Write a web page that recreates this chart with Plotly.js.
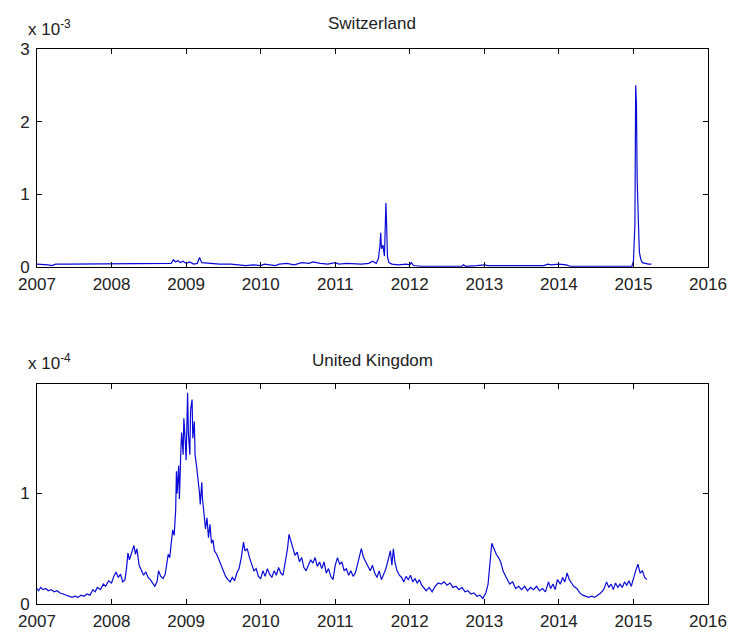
<!DOCTYPE html>
<html>
<head>
<meta charset="utf-8">
<script src="https://cdn.plot.ly/plotly-3.0.1.min.js"></script>
<style>html,body{margin:0;padding:0;background:#fff;}#chart{width:731px;height:636px;}</style>
</head>
<body>
<div id="chart"></div>
<script>
// Switzerland: decimal year, value in units of 1e-3
var chYears = [2007.00,2007.05,2007.10,2007.15,2007.20,2007.25,2007.40,2007.60,2007.80,2008.00,2008.20,2008.40,2008.60,2008.75,2008.80,2008.83,2008.86,2008.89,2008.92,2008.96,2009.00,2009.05,2009.10,2009.15,2009.18,2009.21,2009.30,2009.45,2009.60,2009.75,2009.80,2009.90,2010.00,2010.05,2010.10,2010.20,2010.25,2010.35,2010.45,2010.55,2010.65,2010.70,2010.80,2010.90,2011.00,2011.05,2011.15,2011.25,2011.35,2011.45,2011.50,2011.55,2011.58,2011.60,2011.61,2011.62,2011.64,2011.66,2011.67,2011.68,2011.69,2011.70,2011.72,2011.76,2011.85,2011.95,2012.00,2012.02,2012.05,2012.15,2012.30,2012.50,2012.70,2012.72,2012.75,2012.90,2013.00,2013.05,2013.20,2013.30,2013.50,2013.70,2013.80,2013.85,2013.90,2014.00,2014.10,2014.15,2014.30,2014.60,2014.90,2014.98,2015.00,2015.02,2015.03,2015.04,2015.05,2015.06,2015.07,2015.08,2015.10,2015.12,2015.15,2015.20,2015.24];
var chValues = [0.04,0.04,0.03,0.03,0.02,0.04,0.04,0.04,0.04,0.04,0.04,0.04,0.04,0.05,0.05,0.10,0.07,0.09,0.06,0.08,0.05,0.07,0.04,0.05,0.13,0.06,0.05,0.04,0.04,0.03,0.02,0.03,0.02,0.04,0.03,0.02,0.04,0.05,0.03,0.06,0.05,0.07,0.05,0.04,0.06,0.04,0.05,0.04,0.04,0.05,0.08,0.05,0.12,0.30,0.47,0.25,0.30,0.15,0.55,0.88,0.55,0.15,0.06,0.04,0.03,0.04,0.03,0.06,0.02,0.01,0.01,0.01,0.01,0.03,0.01,0.02,0.03,0.02,0.02,0.03,0.03,0.03,0.02,0.04,0.03,0.04,0.03,0.01,0.01,0.01,0.01,0.01,0.08,0.60,2.50,2.25,1.20,0.60,0.50,0.20,0.10,0.06,0.05,0.04,0.04];

// United Kingdom: decimal year, value in units of 1e-4
var ukYears = [2007.00,2007.02,2007.05,2007.08,2007.12,2007.15,2007.19,2007.23,2007.27,2007.31,2007.35,2007.39,2007.43,2007.47,2007.51,2007.55,2007.59,2007.63,2007.67,2007.71,2007.75,2007.78,2007.81,2007.85,2007.89,2007.92,2007.96,2008.00,2008.03,2008.06,2008.09,2008.12,2008.15,2008.18,2008.20,2008.22,2008.24,2008.27,2008.30,2008.32,2008.34,2008.37,2008.40,2008.43,2008.46,2008.49,2008.52,2008.55,2008.58,2008.61,2008.63,2008.66,2008.69,2008.72,2008.74,2008.76,2008.78,2008.80,2008.82,2008.84,2008.86,2008.87,2008.88,2008.90,2008.91,2008.93,2008.94,2008.96,2008.97,2008.99,2009.00,2009.02,2009.03,2009.05,2009.06,2009.08,2009.09,2009.11,2009.12,2009.14,2009.16,2009.18,2009.19,2009.21,2009.22,2009.24,2009.26,2009.28,2009.30,2009.32,2009.34,2009.36,2009.38,2009.41,2009.44,2009.47,2009.50,2009.53,2009.56,2009.59,2009.62,2009.65,2009.68,2009.71,2009.74,2009.77,2009.79,2009.82,2009.85,2009.88,2009.91,2009.94,2009.97,2010.00,2010.03,2010.06,2010.09,2010.12,2010.15,2010.18,2010.21,2010.24,2010.27,2010.30,2010.33,2010.36,2010.38,2010.40,2010.43,2010.46,2010.49,2010.52,2010.55,2010.58,2010.61,2010.64,2010.67,2010.70,2010.73,2010.76,2010.79,2010.82,2010.85,2010.88,2010.91,2010.94,2010.97,2011.00,2011.03,2011.06,2011.09,2011.12,2011.15,2011.18,2011.21,2011.24,2011.27,2011.30,2011.33,2011.35,2011.38,2011.41,2011.44,2011.47,2011.50,2011.53,2011.56,2011.59,2011.62,2011.65,2011.68,2011.71,2011.74,2011.76,2011.78,2011.80,2011.83,2011.86,2011.89,2011.92,2011.95,2011.98,2012.01,2012.04,2012.07,2012.10,2012.13,2012.16,2012.19,2012.22,2012.26,2012.30,2012.34,2012.38,2012.42,2012.46,2012.50,2012.54,2012.58,2012.62,2012.66,2012.70,2012.74,2012.78,2012.82,2012.86,2012.90,2012.94,2012.98,2013.02,2013.05,2013.08,2013.10,2013.13,2013.16,2013.19,2013.22,2013.25,2013.28,2013.31,2013.34,2013.38,2013.42,2013.46,2013.50,2013.54,2013.58,2013.62,2013.66,2013.70,2013.74,2013.78,2013.82,2013.86,2013.89,2013.92,2013.95,2013.98,2014.02,2014.05,2014.08,2014.11,2014.14,2014.17,2014.20,2014.24,2014.28,2014.32,2014.36,2014.40,2014.44,2014.48,2014.52,2014.56,2014.60,2014.64,2014.67,2014.70,2014.73,2014.76,2014.79,2014.82,2014.85,2014.88,2014.91,2014.94,2014.97,2015.00,2015.03,2015.06,2015.09,2015.12,2015.15,2015.18];
var ukValues = [0.14,0.12,0.15,0.13,0.14,0.12,0.13,0.11,0.12,0.10,0.09,0.08,0.07,0.06,0.07,0.06,0.08,0.07,0.09,0.08,0.13,0.11,0.15,0.13,0.18,0.16,0.21,0.19,0.25,0.29,0.24,0.27,0.20,0.22,0.32,0.46,0.40,0.47,0.53,0.45,0.50,0.35,0.30,0.26,0.29,0.24,0.22,0.19,0.16,0.20,0.30,0.25,0.23,0.27,0.35,0.45,0.42,0.55,0.67,0.62,0.85,1.20,1.00,1.25,0.95,1.40,1.55,1.35,1.68,1.45,1.30,1.91,1.55,1.35,1.75,1.85,1.50,1.65,1.35,1.25,1.15,1.00,0.90,1.10,0.95,0.82,0.68,0.78,0.60,0.72,0.55,0.58,0.48,0.45,0.40,0.35,0.30,0.25,0.22,0.20,0.24,0.21,0.28,0.32,0.42,0.56,0.48,0.50,0.42,0.36,0.30,0.32,0.25,0.23,0.30,0.25,0.32,0.27,0.24,0.30,0.26,0.33,0.28,0.26,0.38,0.50,0.63,0.58,0.50,0.44,0.47,0.38,0.42,0.33,0.30,0.35,0.40,0.37,0.42,0.34,0.38,0.32,0.38,0.28,0.32,0.25,0.22,0.35,0.42,0.36,0.38,0.30,0.32,0.26,0.30,0.25,0.28,0.36,0.45,0.50,0.42,0.38,0.33,0.30,0.35,0.28,0.24,0.30,0.22,0.27,0.32,0.40,0.48,0.35,0.50,0.38,0.30,0.26,0.24,0.20,0.25,0.22,0.26,0.20,0.23,0.19,0.22,0.17,0.14,0.12,0.15,0.11,0.16,0.19,0.18,0.20,0.17,0.19,0.15,0.16,0.13,0.15,0.11,0.12,0.09,0.10,0.07,0.08,0.05,0.10,0.18,0.40,0.55,0.50,0.45,0.42,0.38,0.30,0.26,0.22,0.18,0.20,0.14,0.16,0.13,0.16,0.12,0.15,0.13,0.16,0.12,0.14,0.11,0.20,0.14,0.18,0.13,0.22,0.18,0.24,0.20,0.28,0.22,0.19,0.16,0.14,0.10,0.08,0.07,0.06,0.07,0.06,0.08,0.10,0.13,0.20,0.15,0.18,0.13,0.19,0.15,0.18,0.15,0.20,0.17,0.21,0.16,0.24,0.30,0.36,0.28,0.30,0.24,0.22];

var yearTicks = [2007,2008,2009,2010,2011,2012,2013,2014,2015,2016];
var chTicks = [0,1,2,3];
var ukTicks = [0,1];
var chTitle = 'Switzerland';
var ukTitle = 'United Kingdom';
var chScale = 'x 10<sup>-3</sup>';
var ukScale = 'x 10<sup>-4</sup>';

var FONT = '"Liberation Sans", Arial, sans-serif';
var W = 731, H = 636;
var lineColor = '#0a0ad8';

function xax(anchor) {
  return {
    anchor: anchor, domain: [37/W, 708/W], range: [2007, 2016],
    tickvals: yearTicks, ticktext: yearTicks.map(String),
    showgrid: false, zeroline: false, showline: true, linecolor: '#000', linewidth: 1,
    mirror: 'ticks', ticks: 'inside', ticklen: 5, tickcolor: '#000',
    ticklabelstandoff: 2,
    tickfont: {family: FONT, size: 17, color: '#222'}, fixedrange: true
  };
}
function yax(anchor, dom, rng, tv) {
  return {
    anchor: anchor, domain: dom, range: rng,
    tickvals: tv, ticktext: tv.map(String),
    showgrid: false, zeroline: false, showline: true, linecolor: '#000', linewidth: 1,
    mirror: 'ticks', ticks: 'inside', ticklen: 5, tickcolor: '#000',
    ticklabelstandoff: 3,
    tickfont: {family: FONT, size: 17, color: '#222'}, fixedrange: true
  };
}

var traces = [
  {x: chYears, y: chValues, xaxis: 'x', yaxis: 'y', type: 'scatter', mode: 'lines',
   line: {color: lineColor, width: 1.2}, hoverinfo: 'skip'},
  {x: ukYears, y: ukValues, xaxis: 'x2', yaxis: 'y2', type: 'scatter', mode: 'lines',
   line: {color: lineColor, width: 1.2}, hoverinfo: 'skip'}
];

var layout = {
  width: W, height: H, showlegend: false,
  margin: {l: 0, r: 0, t: 0, b: 0},
  paper_bgcolor: '#fff', plot_bgcolor: '#fff',
  xaxis: xax('y'),
  yaxis: yax('x', [(H-267)/H, (H-49)/H], [0, 3], chTicks),
  xaxis2: xax('y2'),
  yaxis2: yax('x2', [(H-604)/H, (H-384)/H], [0, 1.99], ukTicks),
  annotations: [
    {text: chTitle, xref: 'paper', yref: 'paper', x: 372/W, y: (H-23)/H, xanchor: 'center', yanchor: 'middle',
     showarrow: false, font: {family: FONT, size: 17, color: '#222'}},
    {text: ukTitle, xref: 'paper', yref: 'paper', x: 372/W, y: (H-360)/H, xanchor: 'center', yanchor: 'middle',
     showarrow: false, font: {family: FONT, size: 17, color: '#222'}},
    {text: chScale, xref: 'paper', yref: 'paper', x: 26/W, y: (H-28)/H, xanchor: 'left', yanchor: 'middle',
     showarrow: false, font: {family: FONT, size: 17, color: '#222'}},
    {text: ukScale, xref: 'paper', yref: 'paper', x: 26/W, y: (H-362)/H, xanchor: 'left', yanchor: 'middle',
     showarrow: false, font: {family: FONT, size: 17, color: '#222'}}
  ]
};

Plotly.newPlot('chart', traces, layout, {staticPlot: true, displayModeBar: false});
</script>
</body>
</html>
